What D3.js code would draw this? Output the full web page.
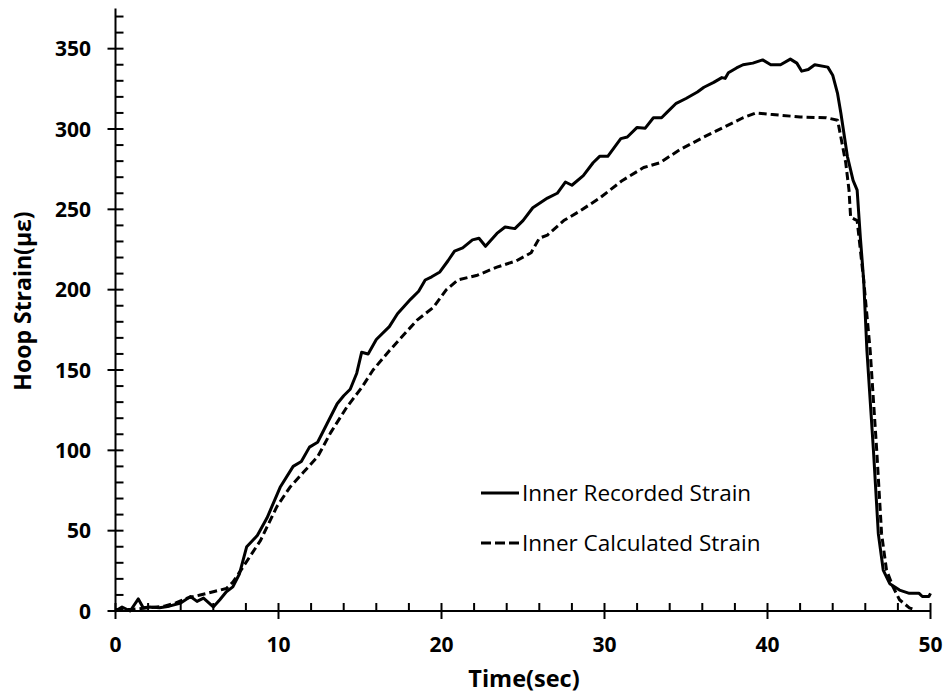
<!DOCTYPE html>
<html>
<head>
<meta charset="utf-8">
<script src="https://cdn.jsdelivr.net/npm/d3@7"></script>
<style>
  html, body { margin: 0; padding: 0; background: #fff; }
  svg { display: block; }
  text { font-family: "Open Sans", Lato, "DejaVu Sans", sans-serif; fill: #000; }
</style>
</head>
<body>
<svg id="chart" width="948" height="696"></svg>
<script>
// ---- data ----
const recordedTime = [0,0.4,0.9,1.4,1.7,2.1,2.7,3.3,4.0,4.6,5.0,5.4,6.0,6.4,6.8,7.2,7.6,8.05,8.7,9.3,10.1,10.9,11.4,11.9,12.4,13.0,13.6,14.0,14.4,14.8,15.1,15.5,16.0,16.8,17.3,18.1,18.6,19.0,19.4,19.9,20.4,20.8,21.3,21.9,22.3,22.7,23.4,23.9,24.5,25.0,25.6,26.5,27.1,27.6,28.0,28.7,29.3,29.7,30.2,31.0,31.4,32.0,32.5,33.0,33.5,33.8,34.4,35.0,35.7,36.1,36.7,37.2,37.4,37.6,38.1,38.5,39.1,39.7,40.2,40.8,41.4,41.8,42.1,42.5,42.9,43.7,44.0,44.3,44.5,44.9,45.25,45.5,45.7,45.9,46.1,46.5,46.8,47.1,47.5,48.1,48.7,49.3,49.5,49.9,50.0];
const recordedStrain = [0,2.5,0,7.5,2,2.5,2,3,5,9,6,8,2.5,7,12,15,23,40,47,58,77,90,93,102,105,117,129,134,138,148,161,160,169,177,185,194,199,206,208,211,218,224,226,231,232,227,235,239,238,243,251,257,260,267,265,271,279,283,283,294,295,301,300.5,307,307,310,316,319,323,326,329,332,331.5,335,338,340,341,343,340,340,343.5,341,336,337,340,338.5,333.5,322,310,283,268,262,232,206,162,100,48,25.5,17,13,11,11,9,9,11];

const calculatedTime = [0,1,2,3,3.7,4.4,5.2,6.0,6.8,7.2,7.8,8.9,9.9,10.7,11.5,12.4,13.2,14.2,15.1,15.8,16.8,17.6,18.5,19.5,20.3,21.0,22.2,23.4,24.6,25.5,26.0,26.5,27.5,28.5,29.7,31.1,32.4,33.4,34.6,36.1,37.3,38.5,39.3,40.3,42.0,43.6,44.3,44.5,44.8,45.0,45.1,45.5,45.9,46.3,46.7,47.0,47.3,47.7,48.1,48.7,49.1];
const calculatedStrain = [1,1,2,3,5,8,10,12,14,18,27,44,65,77,86,96,111,127,139,150,162,171,181,189,200,206,209,214,218,223,232,234,243,249,257,268,276,279,287,295,301,307,310,309,307.5,307,305.5,295,279,262,245,243,206,162,100,48,25.5,15,7,2,0.5];

const xMajorTicks = [0,10,20,30,40,50];
const xMinorTicks = [2,4,6,8,12,14,16,18,22,24,26,28,32,34,36,38,42,44,46,48];
const yMajorTicks = [0,50,100,150,200,250,300,350];
const yMinorTicks = [10,20,30,40,60,70,80,90,110,120,130,140,160,170,180,190,210,220,230,240,260,270,280,290,310,320,330,340,360,370];

const seriesNames = ["Inner Recorded Strain", "Inner Calculated Strain"];
const xTitle = "Time(sec)";
const yTitle = "Hoop Strain(με)";

// ---- layout ----
const svg = d3.select("#chart");
const x = d3.scaleLinear().domain([0, 50]).range([115.5, 930.5]);
const y = d3.scaleLinear().domain([0, 375]).range([611, 8.5]);

const line = d3.line().x(d => x(d[0])).y(d => y(d[1]));
const rec = recordedTime.map((t, i) => [t, recordedStrain[i]]);
const calc = calculatedTime.map((t, i) => [t, calculatedStrain[i]]);

// series
svg.append("path").datum(calc).attr("d", line)
  .attr("fill", "none").attr("stroke", "#000").attr("stroke-width", 3)
  .attr("stroke-dasharray", "8,4").attr("stroke-linejoin", "round");
svg.append("path").datum(rec).attr("d", line)
  .attr("fill", "none").attr("stroke", "#000").attr("stroke-width", 3)
  .attr("stroke-linejoin", "round");

// axes lines
const ax = svg.append("g").attr("stroke", "#000").attr("stroke-width", 2);
ax.append("line").attr("x1", x(0)).attr("x2", x(50)).attr("y1", y(0)).attr("y2", y(0));
ax.append("line").attr("x1", x(0)).attr("x2", x(0)).attr("y1", y(0)).attr("y2", y(375));

// x ticks
ax.selectAll(".xmaj").data(xMajorTicks).enter().append("line")
  .attr("x1", d => x(d)).attr("x2", d => x(d)).attr("y1", y(0) - 8).attr("y2", y(0) + 8);
ax.selectAll(".xmin").data(xMinorTicks).enter().append("line")
  .attr("x1", d => x(d)).attr("x2", d => x(d)).attr("y1", y(0) - 8).attr("y2", y(0));
// y ticks
ax.selectAll(".ymaj").data(yMajorTicks).enter().append("line")
  .attr("y1", d => y(d)).attr("y2", d => y(d)).attr("x1", x(0) - 8).attr("x2", x(0) + 8);
ax.selectAll(".ymin").data(yMinorTicks).enter().append("line")
  .attr("y1", d => y(d)).attr("y2", d => y(d)).attr("x1", x(0)).attr("x2", x(0) + 8);

// tick labels
svg.selectAll(".xlab").data(xMajorTicks).enter().append("text")
  .attr("x", d => x(d)).attr("y", 652)
  .attr("text-anchor", "middle").attr("font-size", 21).attr("font-weight", "bold")
  .text(d => d);
svg.selectAll(".ylab").data(yMajorTicks).enter().append("text")
  .attr("x", 91).attr("y", d => y(d) + 7.5)
  .attr("text-anchor", "end").attr("font-size", 21).attr("font-weight", "bold")
  .text(d => d);

// axis titles
svg.append("text").attr("x", 524).attr("y", 687)
  .attr("text-anchor", "middle").attr("font-size", 23.5).attr("font-weight", "bold")
  .text(xTitle);
svg.append("text").attr("transform", "translate(31,301) rotate(-90)")
  .attr("text-anchor", "middle").attr("font-size", 23).attr("font-weight", "bold")
  .text(yTitle);

// legend
const leg = svg.append("g");
const legY = [493, 543];
const legDash = [null, "10,4"];
seriesNames.forEach((name, i) => {
  leg.append("line").attr("x1", 481).attr("x2", 519).attr("y1", legY[i]).attr("y2", legY[i])
    .attr("stroke", "#000").attr("stroke-width", 3)
    .attr("stroke-dasharray", legDash[i]);
  leg.append("text").attr("x", 522).attr("y", legY[i] + 8)
    .attr("font-size", 22.5).text(name);
});
</script>
</body>
</html>
